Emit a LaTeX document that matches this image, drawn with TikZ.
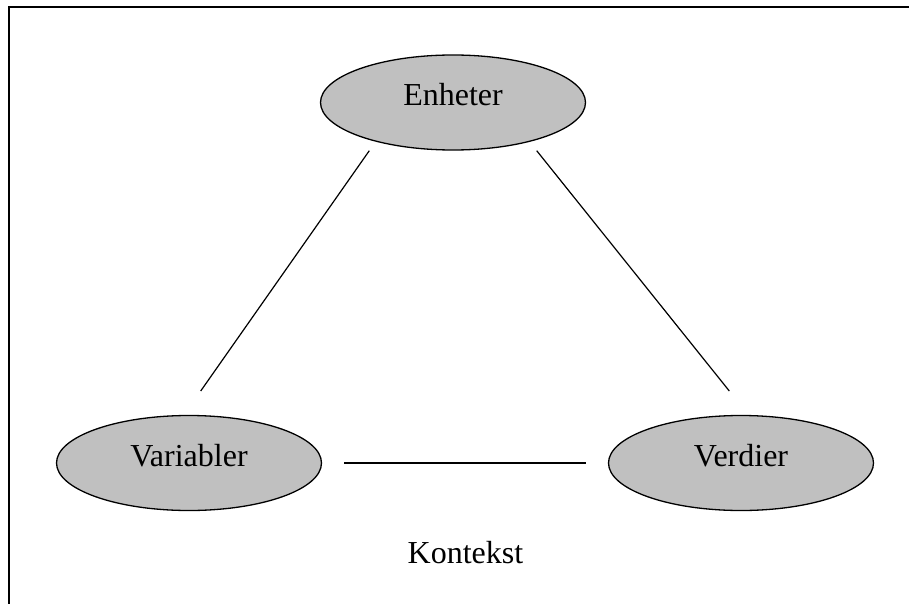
\documentclass[tikz,border=0pt]{standalone}
\usepackage{fontspec}
\setmainfont{Liberation Serif}
\usetikzlibrary{shapes}
\definecolor{silver}{RGB}{192,192,192}

\begin{document}
\begin{tikzpicture}[ x=1pt, y=-1pt, blob/.style={ ellipse, draw,
    fill=silver, line width=1.3pt, inner sep=0pt, minimum width=265pt,
    minimum height=95pt, text height=21pt, text depth=14pt,
    font=\fontsize{32}{36}\selectfont }, link/.style={ line width=1.2pt },
    frame/.style={ line width=2pt } ]
  \useasboundingbox (0,0) rectangle (909,604);
  \draw[frame] (9,604) |- (909,7);
  \foreach \n/\x/\y/\l in {enh/453/102.5/Enheter,var/189/463/Variabler,ver/741/463/Verdier}
  \node[blob] (\n) at (\x,\y) {\l};
  \node[font=\fontsize{32}{36}\selectfont, anchor=base] (ctx) at (465.5,563.3) {Kontekst};
  \coordinate (enhL) at (369.3,150.7);
  \coordinate (enhR) at (536.7,150.7);
  \coordinate (varT) at (200.7,391);
  \coordinate (verT) at (729.3,391);
  \coordinate (varR) at (344.3,462.7);
  \coordinate (verL) at (586,462.7);
  \draw[link] (enhL) -- (varT);
  \draw[link] (enhR) -- (verT);
  \draw[link, line width=1.8pt] (varR) -- (verL);
\end{tikzpicture}
\end{document}
